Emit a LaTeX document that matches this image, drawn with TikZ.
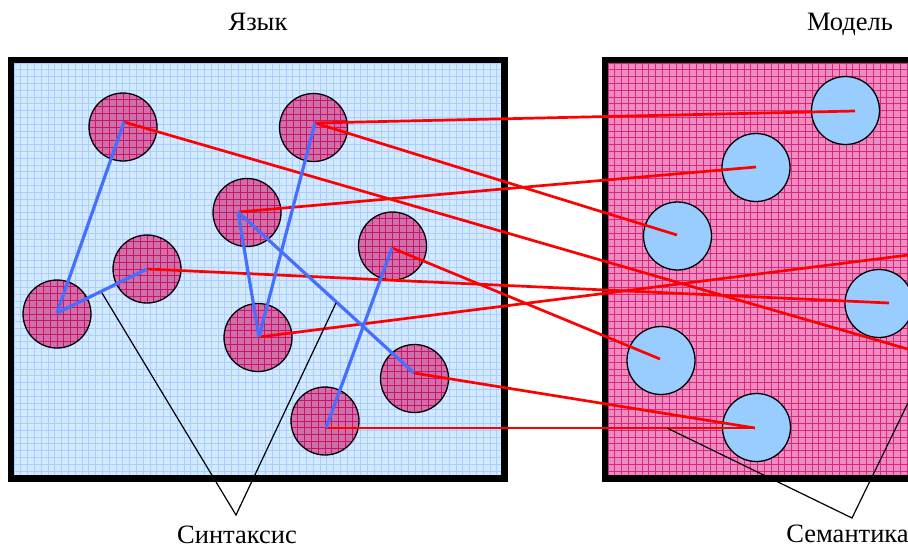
\documentclass[tikz,border=0pt]{standalone}
\usepackage{fontspec}
\setmainfont{Liberation Serif}
\definecolor{bluebg}{RGB}{212,233,255}
\definecolor{bluegrid}{RGB}{165,208,255}
\definecolor{pinkbg}{RGB}{238,140,192}
\definecolor{pinkgrid}{RGB}{214,40,128}
\definecolor{magfill}{RGB}{208,112,168}
\definecolor{maggrid}{RGB}{200,20,110}
\definecolor{ltblue}{RGB}{153,204,255}
\definecolor{synblue}{RGB}{70,110,255}
\begin{document}
\begin{tikzpicture}[x=1pt,y=-1pt,
  boxline/.style={line width=6.5pt,draw=black},
  bgrid/.style={draw=bluegrid,line width=0.9pt},
  pgrid/.style={draw=pinkgrid,line width=0.7pt},
  lcirc/.style={circle,inner sep=0pt,minimum size=68pt,draw=black,line width=1.3pt,fill=magfill,
    path picture={
      \foreach \i in {-5,...,5}{
        \draw[draw=maggrid,line width=0.7pt]
          ([xshift=\i*6.8pt]path picture bounding box.north) -- ([xshift=\i*6.8pt]path picture bounding box.south);
        \draw[draw=maggrid,line width=0.7pt]
          ([yshift=\i*6.8pt]path picture bounding box.west) -- ([yshift=\i*6.8pt]path picture bounding box.east);
      }}},
  rcirc/.style={circle,inner sep=0pt,minimum size=68pt,draw=black,line width=1.3pt,fill=ltblue},
  redline/.style={draw=red,line width=2.7pt},
  synline/.style={draw=synblue,line width=3.2pt},
  annot/.style={draw=black,line width=1.2pt},
  lbl/.style={anchor=base,inner sep=0pt,font=\fontsize{26.5}{31}\selectfont}]
\useasboundingbox (0,0) rectangle (908,547);
\clip (0,0) rectangle (908,547);
% backgrounds
\fill[bluebg] (11,60) rectangle (504.5,478.5);
\foreach \x in {14,20.8,...,504} \draw[bgrid] (\x,60) -- (\x,478.5);
\foreach \y in {63,69.8,...,478} \draw[bgrid] (11,\y) -- (504.5,\y);
\fill[pinkbg] (605,60) rectangle (1100,478.5);
\foreach \x in {608,614.8,...,912} \draw[pgrid] (\x,60) -- (\x,478.5);
\foreach \y in {63,69.8,...,478} \draw[pgrid] (605,\y) -- (912,\y);
% borders
\draw[boxline] (11,60) rectangle (504.5,478.5);
\draw[boxline] (605,60) rectangle (1100,478.5);
% language circles
\node[lcirc] (L1) at (123,127) {};
\node[lcirc] (L2) at (313.5,127.5) {};
\node[lcirc] (L3) at (247,212.5) {};
\node[lcirc] (L4) at (392.5,246) {};
\node[lcirc] (L5) at (147,269) {};
\node[lcirc] (L6) at (57,314) {};
\node[lcirc] (L7) at (258,337.5) {};
\node[lcirc] (L8) at (414.5,378.5) {};
\node[lcirc] (L9) at (325,421) {};
% model circles
\node[rcirc] (R1) at (845.5,110.5) {};
\node[rcirc] (R2) at (756,167.5) {};
\node[rcirc] (R3) at (677.5,236) {};
\node[rcirc] (R4) at (879,303.5) {};
\node[rcirc] (R5) at (661,360.5) {};
\node[rcirc] (R6) at (756.5,427.5) {};
% connection points
\coordinate (a1) at (124,122);
\coordinate (a2) at (315,123);
\coordinate (a3) at (238,212);
\coordinate (a4) at (392,248);
\coordinate (a5) at (147,269);
\coordinate (a6) at (57,313);
\coordinate (a7) at (259,337);
\coordinate (a8) at (414,373);
\coordinate (a9) at (326,428);
\coordinate (b1) at (855,111);
\coordinate (b2) at (756,167);
\coordinate (b3) at (677,235);
\coordinate (b4) at (889,303);
\coordinate (b5) at (660,359);
\coordinate (b6) at (755,428);
\coordinate (bx1) at (980,370);
\coordinate (bx2) at (980,246);
% semantic links
\draw[redline] (a1) -- (bx1);
\draw[redline] (a2) -- (b1);
\draw[redline] (a2) -- (b3);
\draw[redline] (a3) -- (b2);
\draw[redline] (a4) -- (b5);
\draw[redline] (a5) -- (b4);
\draw[redline] (a7) -- (bx2);
\draw[redline] (a8) -- (b6);
\draw[redline] (a9) -- (b6);
% syntactic links
\draw[synline] (a1) -- (a6);
\draw[synline] (a6) -- (a5);
\draw[synline] (a2) -- (a7);
\draw[synline] (a7) -- (a3);
\draw[synline] (a3) -- (a8);
\draw[synline] (a9) -- (a4);
% annotation pointers
\coordinate (sA) at (236,515);
\coordinate (s1) at (102,293);
\coordinate (s2) at (336,303);
\coordinate (mA) at (852,518);
\coordinate (m1) at (667,428);
\coordinate (m2) at (924,370);
\draw[annot] (s1) -- (sA) -- (s2);
\draw[annot] (m1) -- (mA) -- (m2);
% labels
\node[lbl] (tlang) at (258,30) {Язык};
\node[lbl] (tmodel) at (850,30) {Модель};
\node[lbl] (tsyn) at (237,543) {Синтаксис};
\node[lbl] (tsem) at (847.5,542) {Семантика};
\end{tikzpicture}
\end{document}
